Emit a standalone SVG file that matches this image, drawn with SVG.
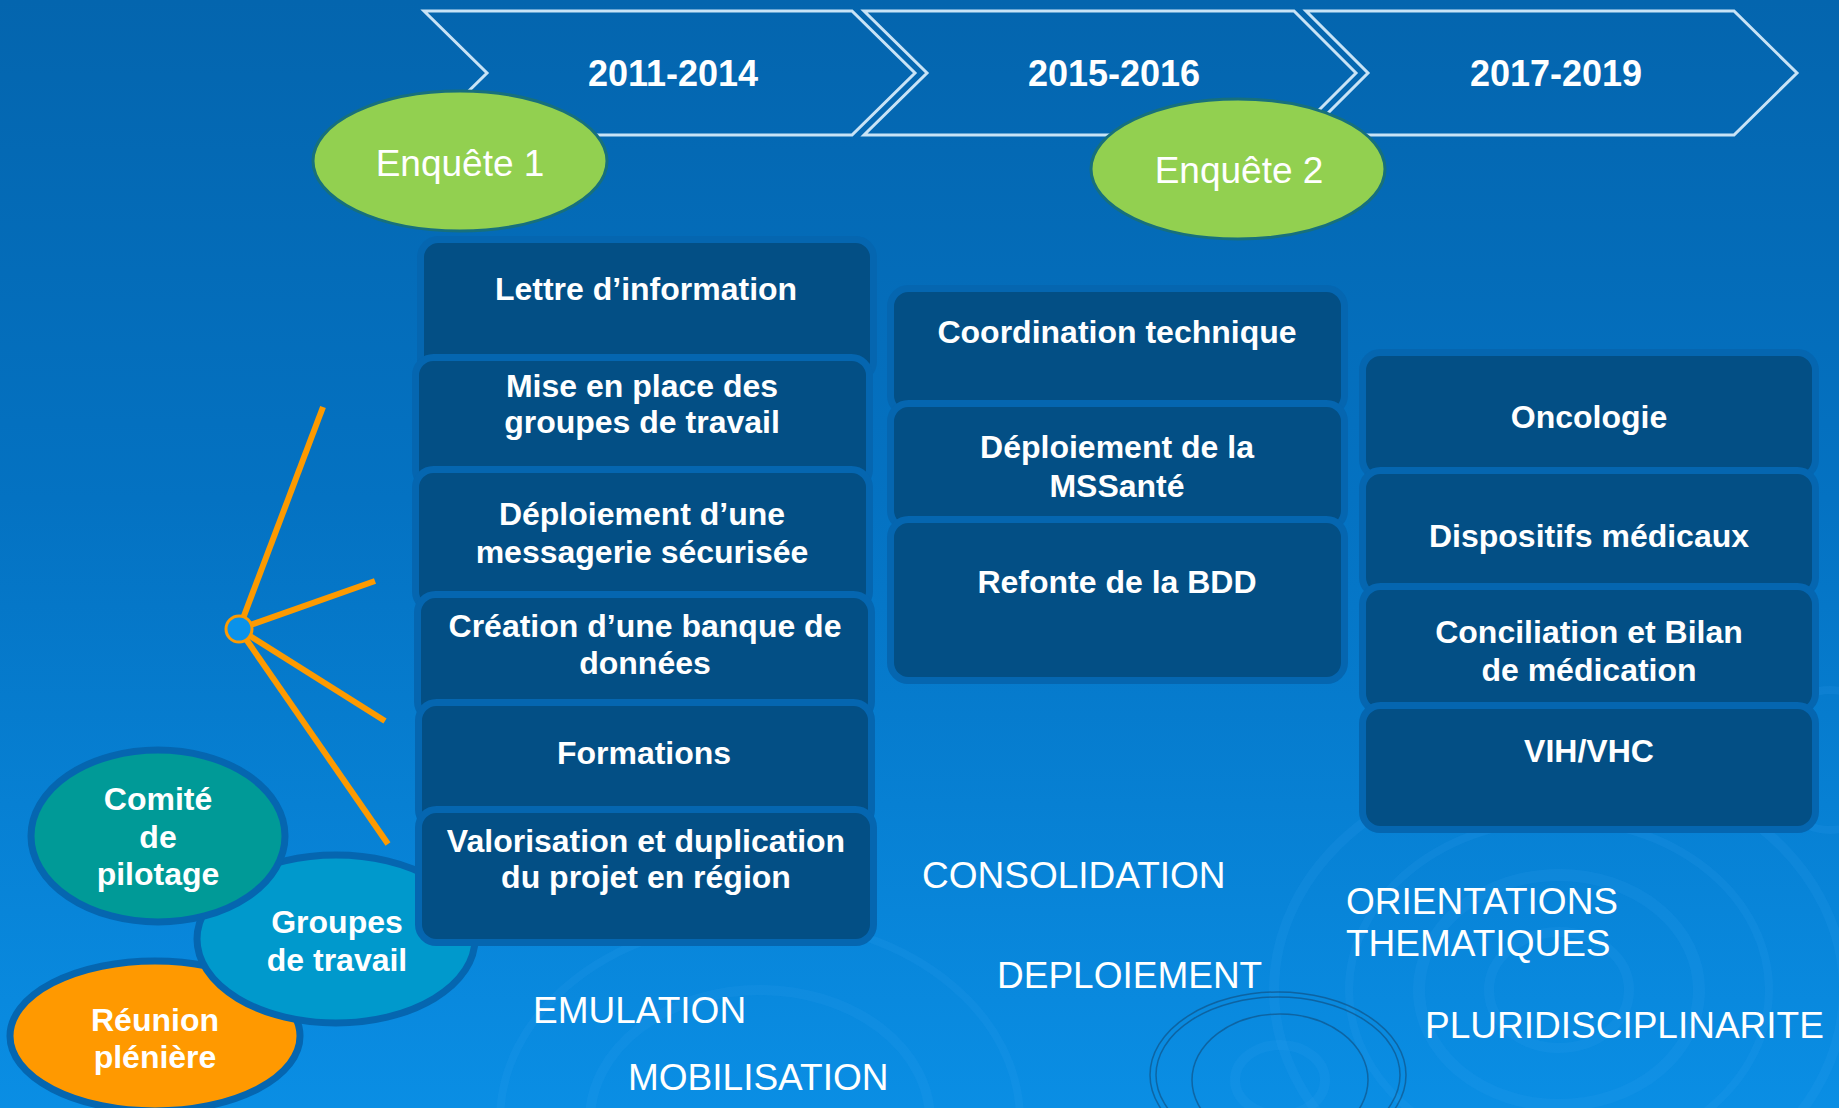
<svg xmlns="http://www.w3.org/2000/svg" width="1839" height="1108" viewBox="0 0 1839 1108">
<defs>
<linearGradient id="bg" x1="0" y1="0" x2="0" y2="1">
<stop offset="0" stop-color="#0465ae"/>
<stop offset="0.45" stop-color="#0472c2"/>
<stop offset="1" stop-color="#0a8ee4"/>
</linearGradient>
<style>
text{font-family:"Liberation Sans",Arial,sans-serif;fill:#fff}
.yr{font-size:36px;font-weight:bold;text-anchor:middle}
.enq{font-size:37px;text-anchor:middle}
.bx{fill:#034f85;stroke:#0566b0;stroke-width:7}
.bt{font-size:32px;font-weight:bold;text-anchor:middle}
.lbl{font-size:37px}
.chev{fill:none;stroke:#c8e3f6;stroke-width:3;stroke-linejoin:miter}
.ell{stroke:#0566b0;stroke-width:7}
.ring{fill:none;stroke:#3aa6f0;stroke-opacity:0.14}
.dring{fill:none;stroke:#123d66;stroke-opacity:0.5;stroke-width:1.5}
.ray{stroke:#fd9a00;stroke-width:6;stroke-linecap:butt}
</style>
</defs>
<rect x="0" y="0" width="1839" height="1108" fill="url(#bg)"/>
<g id="decor">
<ellipse class="ring" cx="1559" cy="990" rx="285" ry="230" stroke-width="10"/>
<ellipse class="ring" cx="1559" cy="990" rx="210" ry="170" stroke-width="8"/>
<ellipse class="ring" cx="1559" cy="990" rx="140" ry="115" stroke-width="12"/>
<ellipse class="ring" cx="1559" cy="990" rx="70" ry="58" stroke-width="10"/>
<ellipse class="ring" cx="760" cy="1120" rx="260" ry="200" stroke-width="8"/>
<ellipse class="ring" cx="760" cy="1120" rx="170" ry="130" stroke-width="10"/>
<ellipse class="ring" cx="1830" cy="760" rx="60" ry="70" stroke-width="8"/>
<ellipse class="dring" cx="1278" cy="1075" rx="128" ry="83"/>
<ellipse class="dring" cx="1278" cy="1075" rx="122" ry="78"/>
<ellipse class="dring" cx="1280" cy="1080" rx="88" ry="66"/>
<ellipse class="ring" cx="1280" cy="1080" rx="45" ry="35" stroke-width="10"/>
</g>
<g id="timeline">
<polygon class="chev" points="424,11 852,11 915,73 852,135 424,135 487,73"/>
<polygon class="chev" points="864,11 1294,11 1356,73 1294,135 864,135 927,73"/>
<polygon class="chev" points="1306,11 1734,11 1797,73 1734,135 1306,135 1368,73"/>
<text class="yr" x="673" y="86">2011-2014</text>
<text class="yr" x="1114" y="86">2015-2016</text>
<text class="yr" x="1556" y="86">2017-2019</text>
</g>
<g id="enquete1">
<ellipse cx="460" cy="161" rx="147" ry="70" fill="#92d050" stroke="#17707c" stroke-width="3"/>
<text class="enq" x="460" y="176">Enquête 1</text>
</g>
<g id="enquete2">
<ellipse cx="1238" cy="169" rx="147" ry="70" fill="#92d050" stroke="#17707c" stroke-width="3"/>
<text class="enq" x="1239" y="183">Enquête 2</text>
</g>
<g id="connectors">
<line class="ray" x1="239" y1="629" x2="323" y2="407"/>
<line class="ray" x1="239" y1="629" x2="375" y2="581"/>
<line class="ray" x1="239" y1="629" x2="385" y2="721"/>
<line class="ray" x1="239" y1="629" x2="388" y2="844"/>
<circle cx="239" cy="629" r="13" fill="#0a92ea" stroke="#fd9a00" stroke-width="3"/>
</g>
<g id="reunion">
<ellipse class="ell" cx="155" cy="1036" rx="145" ry="75" fill="#ff9900"/>
<text class="bt" x="155" y="1031">Réunion</text>
<text class="bt" x="155" y="1068">plénière</text>
</g>
<g id="groupes">
<ellipse class="ell" cx="336" cy="939" rx="139" ry="84" fill="#0099cc"/>
<text class="bt" x="337" y="933">Groupes</text>
<text class="bt" x="337" y="971">de travail</text>
</g>
<g id="comite">
<ellipse class="ell" cx="158" cy="836" rx="127" ry="86" fill="#009a97"/>
<text class="bt" x="158" y="810">Comité</text>
<text class="bt" x="158" y="848">de</text>
<text class="bt" x="158" y="885">pilotage</text>
</g>
<g id="col1">
<g id="lettre"><rect class="bx" x="420.5" y="239.5" width="453" height="140" rx="18"/><text class="bt" x="646" y="300">Lettre d’information</text></g>
<g id="mise"><rect class="bx" x="415.5" y="357.5" width="454" height="130" rx="18"/><text class="bt" x="642" y="397">Mise en place des</text><text class="bt" x="642" y="433">groupes de travail</text></g>
<g id="messagerie"><rect class="bx" x="415.5" y="469.5" width="454" height="140" rx="18"/><text class="bt" x="642" y="525">Déploiement d’une</text><text class="bt" x="642" y="563">messagerie sécurisée</text></g>
<g id="banque"><rect class="bx" x="417.5" y="594.5" width="454" height="125" rx="18"/><text class="bt" x="645" y="637">Création d’une banque de</text><text class="bt" x="645" y="674">données</text></g>
<g id="formations"><rect class="bx" x="418.5" y="702.5" width="453" height="125" rx="18"/><text class="bt" x="644" y="764">Formations</text></g>
<g id="valorisation"><rect class="bx" x="418.5" y="809.5" width="455" height="133" rx="18"/><text class="bt" x="646" y="852">Valorisation et duplication</text><text class="bt" x="646" y="888">du projet en région</text></g>
</g>
<g id="col2">
<g id="coordination"><rect class="bx" x="890.5" y="288.5" width="454" height="125" rx="18"/><text class="bt" x="1117" y="343">Coordination technique</text></g>
<g id="mssante"><rect class="bx" x="890.5" y="403.5" width="454" height="125" rx="18"/><text class="bt" x="1117" y="458">Déploiement de la</text><text class="bt" x="1117" y="497">MSSanté</text></g>
<g id="bdd"><rect class="bx" x="890.5" y="519.5" width="454" height="161" rx="18"/><text class="bt" x="1117" y="593">Refonte de la BDD</text></g>
</g>
<g id="col3">
<g id="oncologie"><rect class="bx" x="1362.5" y="352.5" width="453" height="125" rx="18"/><text class="bt" x="1589" y="428">Oncologie</text></g>
<g id="dispositifs"><rect class="bx" x="1362.5" y="470.5" width="453" height="125" rx="18"/><text class="bt" x="1589" y="547">Dispositifs médicaux</text></g>
<g id="conciliation"><rect class="bx" x="1362.5" y="586.5" width="453" height="125" rx="18"/><text class="bt" x="1589" y="643">Conciliation et Bilan</text><text class="bt" x="1589" y="681">de médication</text></g>
<g id="vih"><rect class="bx" x="1362.5" y="705.5" width="453" height="124" rx="18"/><text class="bt" x="1589" y="762">VIH/VHC</text></g>
</g>
<g id="labels">
<text class="lbl" x="922" y="888">CONSOLIDATION</text>
<text class="lbl" x="997" y="988">DEPLOIEMENT</text>
<text class="lbl" x="533" y="1023">EMULATION</text>
<text class="lbl" x="628" y="1090">MOBILISATION</text>
<text class="lbl" x="1346" y="914">ORIENTATIONS</text>
<text class="lbl" x="1346" y="956">THEMATIQUES</text>
<text class="lbl" x="1425" y="1038">PLURIDISCIPLINARITE</text>
</g>
</svg>
